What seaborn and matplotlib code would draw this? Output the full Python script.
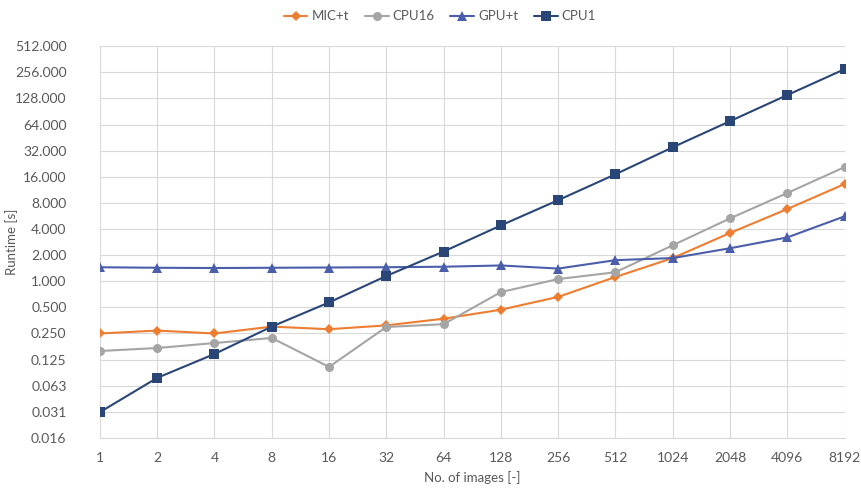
import pandas as pd
import seaborn as sns
import matplotlib.pyplot as plt
from matplotlib.ticker import FixedLocator, FixedFormatter, NullLocator

# データ
images = [1, 2, 4, 8, 16, 32, 64, 128, 256, 512, 1024, 2048, 4096, 8192]
mic_t = [0.25, 0.27, 0.25, 0.30, 0.28, 0.31, 0.37, 0.47, 0.66, 1.12, 1.85, 3.6, 6.8, 13.2]
cpu16 = [0.157, 0.17, 0.194, 0.222, 0.103, 0.297, 0.32, 0.75, 1.06, 1.27, 2.6, 5.3, 10.4, 20.7]
gpu_t = [1.45, 1.43, 1.42, 1.43, 1.44, 1.45, 1.47, 1.52, 1.40, 1.75, 1.85, 2.4, 3.2, 5.6]
cpu1 = [0.031, 0.077, 0.145, 0.30, 0.57, 1.15, 2.2, 4.4, 8.6, 17.1, 35, 70, 140, 278]

series_names = ['MIC+t', 'CPU16', 'GPU+t', 'CPU1']
y_ticks = [0.015625, 0.03125, 0.0625, 0.125, 0.25, 0.5, 1, 2, 4, 8, 16, 32, 64, 128, 256, 512]
y_tick_labels = ['0.016', '0.031', '0.063', '0.125', '0.250', '0.500', '1.000', '2.000',
                 '4.000', '8.000', '16.000', '32.000', '64.000', '128.000', '256.000', '512.000']

df = pd.DataFrame({'images': images, 'MIC+t': mic_t, 'CPU16': cpu16,
                   'GPU+t': gpu_t, 'CPU1': cpu1})
df_long = df.melt(id_vars='images', var_name='series', value_name='runtime')

palette = {'MIC+t': '#ED7D31', 'CPU16': '#A5A5A5', 'GPU+t': '#4A5EAA', 'CPU1': '#2A4677'}
markers = {'MIC+t': 'D', 'CPU16': 'o', 'GPU+t': '^', 'CPU1': 's'}
sizes = {'MIC+t': 5, 'CPU16': 6.5, 'GPU+t': 6.5, 'CPU1': 6.5}

sns.set_style('white')
plt.rcParams['font.family'] = ['Lato', 'DejaVu Sans']

fig = plt.figure(figsize=(8.61, 4.91), dpi=100)
ax = fig.add_axes([0.116, 0.108, 0.865, 0.798])

for name in series_names:
    sub = df_long[df_long['series'] == name]
    sns.lineplot(data=sub, x='images', y='runtime', ax=ax, color=palette[name],
                 marker=markers[name], markersize=sizes[name], markeredgewidth=0,
                 linewidth=1.5, label=name, legend=False)

ax.set_xscale('log', base=2)
ax.set_yscale('log', base=2)
ax.set_xlim(1, 8192)
ax.set_ylim(y_ticks[0], y_ticks[-1])

ax.xaxis.set_major_locator(FixedLocator(images))
ax.xaxis.set_major_formatter(FixedFormatter([str(i) for i in images]))
ax.xaxis.set_minor_locator(NullLocator())
ax.yaxis.set_major_locator(FixedLocator(y_ticks))
ax.yaxis.set_major_formatter(FixedFormatter(y_tick_labels))
ax.yaxis.set_minor_locator(NullLocator())

ax.grid(True, color='#D9D9D9', linewidth=0.8)
ax.set_axisbelow(True)
for side, spine in ax.spines.items():
    spine.set_visible(side == 'bottom')
ax.spines['bottom'].set_color('#D9D9D9')
ax.tick_params(axis='both', length=0, labelsize=10, colors='#595959')
ax.tick_params(axis='y', pad=24)
ax.tick_params(axis='x', pad=10)

ax.set_xlabel('No. of images [-]', fontsize=9.5, color='#595959', labelpad=5)
ax.set_ylabel('Runtime [s]', fontsize=9.5, color='#595959')
ax.yaxis.set_label_coords(-0.11, 0.5)

handles, labels = ax.get_legend_handles_labels()
fig.legend(handles, labels, loc='center', bbox_to_anchor=(0.511, 0.967), ncol=4,
           frameon=False, fontsize=9.5, handlelength=1.8, columnspacing=1.2,
           handletextpad=0.3, labelcolor='#595959')

fig.savefig('out.png', dpi=100)
